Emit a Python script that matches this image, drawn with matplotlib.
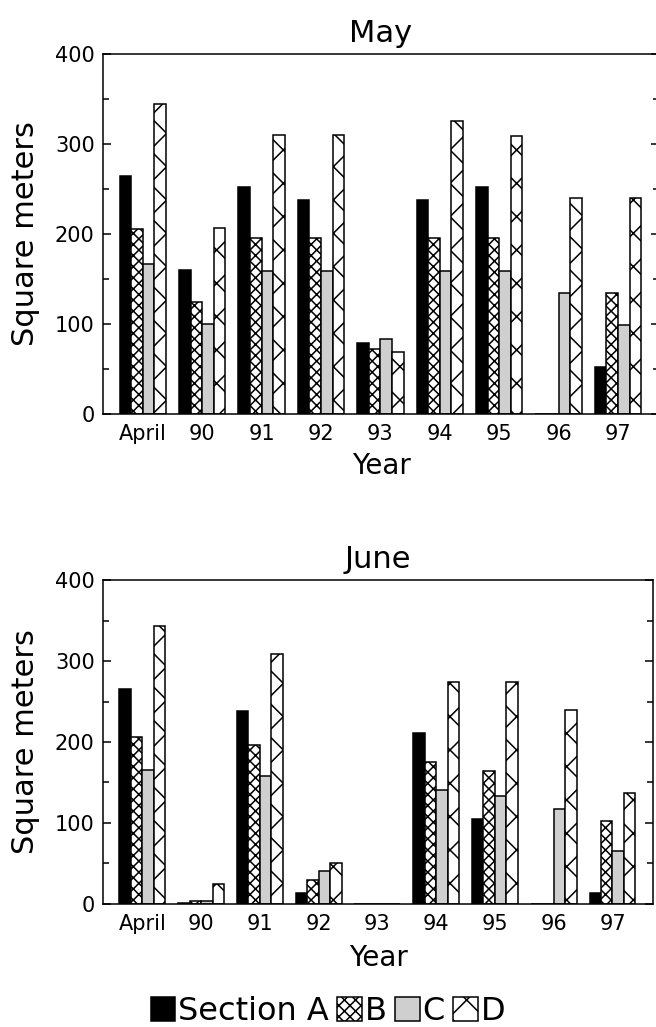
import matplotlib
matplotlib.use("Agg")
import matplotlib.pyplot as plt
import numpy as np
from matplotlib.patches import Patch
from matplotlib.ticker import MultipleLocator

# Dados (metros quadrados por seção)
years = ["April", "90", "91", "92", "93", "94", "95", "96", "97"]

may_a = [265, 160, 252, 238, 79, 238, 252, 0, 52]
may_b = [206, 124, 196, 196, 72, 196, 196, 0, 134]
may_c = [167, 100, 159, 159, 83, 159, 159, 134, 99]
may_d = [344, 207, 310, 310, 69, 326, 309, 240, 240]

june_a = [265, 1, 238, 14, 0, 211, 105, 0, 14]
june_b = [206, 4, 196, 30, 0, 175, 164, 0, 102]
june_c = [166, 4, 158, 41, 0, 141, 133, 117, 65]
june_d = [343, 25, 309, 51, 0, 274, 274, 240, 137]

section_labels = ["Section A", "B", "C", "D"]

plt.rcParams["font.family"] = ["DejaVu Sans"]
plt.rcParams["hatch.linewidth"] = 1.1

estilos = [
    dict(facecolor="black", hatch=None),
    dict(facecolor="white", hatch="xxx"),
    dict(facecolor="#cfcfcf", hatch=None),
    dict(facecolor="white", hatch="x"),
]

fig = plt.figure(figsize=(6.56, 10.27), dpi=100)
ax_may = fig.add_axes([0.157, 0.5969, 0.8476, 0.3505])
ax_june = fig.add_axes([0.157, 0.1198, 0.8384, 0.3154])

x = np.arange(len(years))
largura = 0.195


def desenhar(ax, series, titulo, ylabel_x, xlabel_y):
    for i, valores in enumerate(series):
        ax.bar(x + (i - 1.5) * largura, valores, width=largura,
               edgecolor="black", linewidth=1.1, **estilos[i])
    ax.set_xlim(-0.67, 8.69)
    ax.set_ylim(0, 400)
    ax.yaxis.set_major_locator(MultipleLocator(100))
    ax.yaxis.set_minor_locator(MultipleLocator(50))
    ax.tick_params(axis="y", which="both", direction="in", left=True, right=True,
                   labelsize=15, pad=6, width=1.1)
    ax.tick_params(axis="y", which="major", length=6)
    ax.tick_params(axis="y", which="minor", length=4)
    ax.set_xticks(x)
    ax.set_xticklabels(years)
    ax.tick_params(axis="x", length=0, labelsize=15, pad=7)
    for s in ax.spines.values():
        s.set_linewidth(1.1)
    ax.set_title(titulo, fontsize=22, pad=9)
    ax.set_ylabel("Square meters", fontsize=22)
    ax.yaxis.set_label_coords(ylabel_x, 0.5)
    ax.set_xlabel("Year", fontsize=20)
    ax.xaxis.set_label_coords(0.5, xlabel_y)


desenhar(ax_may, [may_a, may_b, may_c, may_d], "May", -0.113, -0.105)
desenhar(ax_june, [june_a, june_b, june_c, june_d], "June", -0.115, -0.125)

handles = [Patch(edgecolor="black", linewidth=1.1, **e) for e in estilos]
fig.legend(handles, section_labels, loc="center", bbox_to_anchor=(0.5, 1 - 1012 / 1027),
           ncol=4, frameon=False, fontsize=23, handlelength=0.77, handleheight=0.77,
           handletextpad=0.1, columnspacing=0.25, borderpad=0)

fig.savefig("out.png", dpi=100)
